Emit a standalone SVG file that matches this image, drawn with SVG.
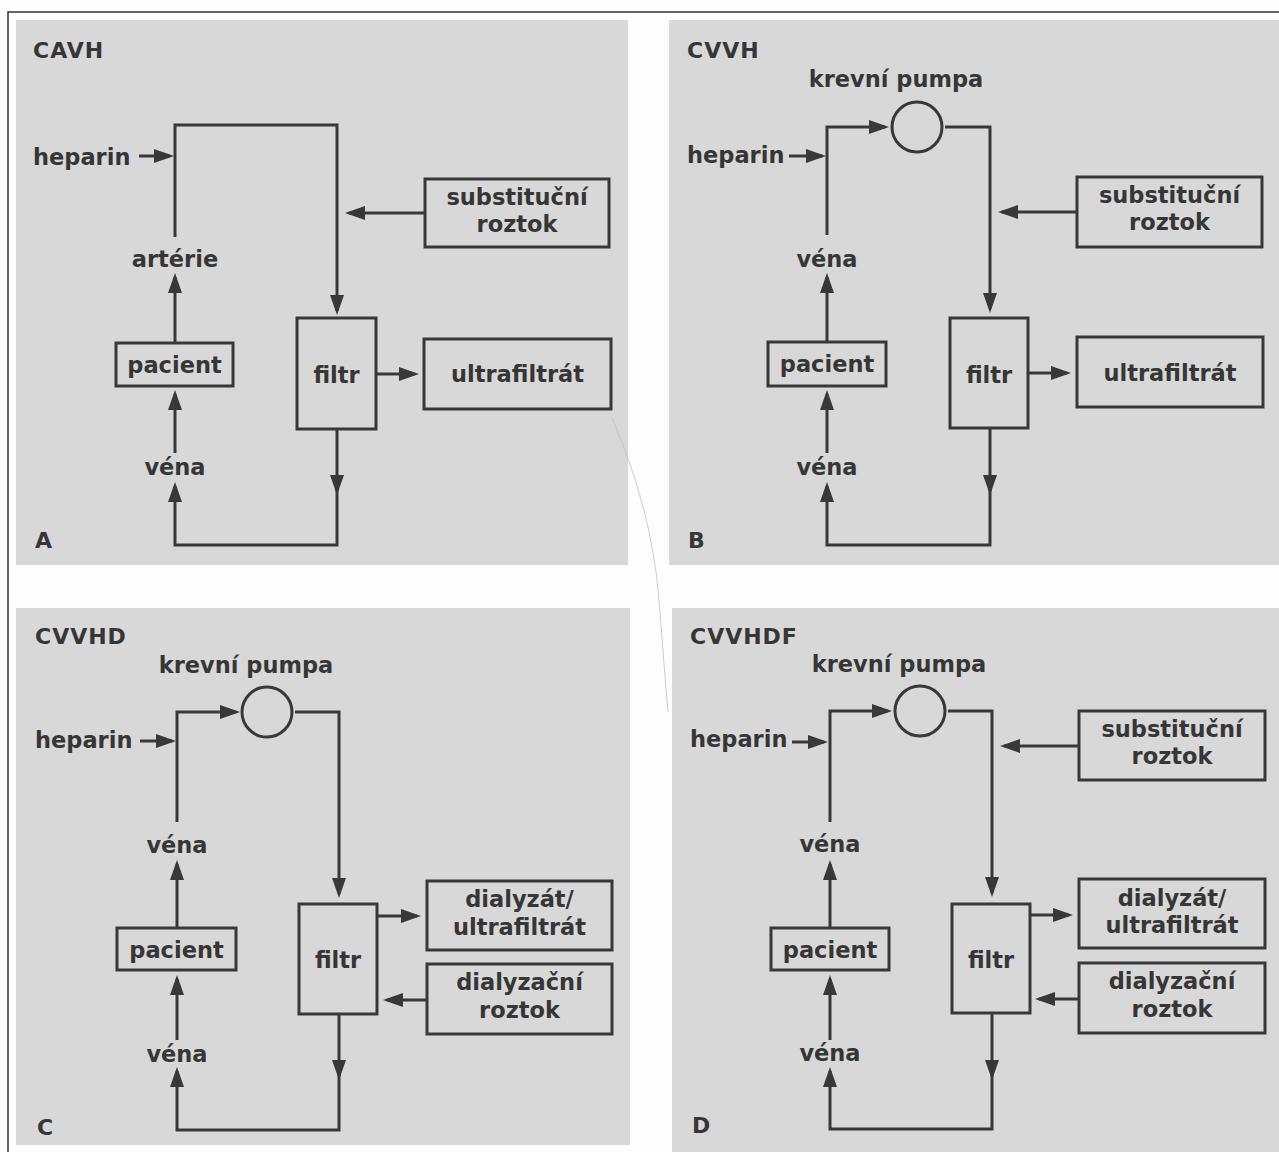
<svg xmlns="http://www.w3.org/2000/svg" width="1279" height="1152" viewBox="0 0 1279 1152">
<defs>
<style>
.panel{fill:#d8d8d8}
.ln{fill:none;stroke:#383838;stroke-width:3}
.arr{fill:none;stroke:#383838;stroke-width:3;marker-end:url(#ah)}
.box{fill:none;stroke:#383838;stroke-width:3}
.t{font-family:"DejaVu Sans",sans-serif;font-weight:bold;font-size:22.5px;fill:#363636}
.c{text-anchor:middle}
.title{font-family:"DejaVu Sans",sans-serif;font-weight:bold;font-size:22px;fill:#363636;letter-spacing:1px}
</style>
<marker id="ah" markerUnits="userSpaceOnUse" markerWidth="20" markerHeight="14" refX="16" refY="7" orient="auto">
<path d="M0,0 L20,7 L0,14 z" fill="#383838"/>
</marker>
</defs>
<rect x="0" y="0" width="1279" height="1152" fill="#fdfdfd"/>
<path d="M8,1152 L8,12 L1279,12" fill="none" stroke="#333" stroke-width="1.5"/>
<rect class="panel" x="16" y="20" width="612" height="545"/>
<rect class="panel" x="669" y="20" width="610" height="545"/>
<rect class="panel" x="16" y="608" width="614" height="537"/>
<rect class="panel" x="672" y="608" width="607" height="544"/>
<path d="M612,418 Q652,510 659,600 T668,712" fill="none" stroke="#b8b8b8" stroke-width="1" opacity="0.7"/>

<!-- Panel A -->
<g id="panelA">
<text class="title" x="33" y="58">CAVH</text>
<text class="title" x="35" y="548">A</text>
<g id="A-heparin"><text class="t" x="33" y="165">heparin</text></g>
<g id="A-arterie"><text class="t c" x="175" y="267">artérie</text></g>
<g id="A-vena"><text class="t c" x="175" y="475">véna</text></g>
<g id="A-subst"><rect class="box" x="425" y="179" width="184" height="68"/><text class="t c" x="517" y="205">substituční</text><text class="t c" x="517" y="232">roztok</text></g>
<g id="A-pacient"><rect class="box" x="116" y="343" width="117" height="43"/><text class="t c" x="174.5" y="373">pacient</text></g>
<g id="A-filtr"><rect class="box" x="297" y="318" width="79" height="111"/><text class="t c" x="336.5" y="383">filtr</text></g>
<g id="A-ultra"><rect class="box" x="424" y="339" width="187" height="70"/><text class="t c" x="517.5" y="382">ultrafiltrát</text></g>
</g>

<!-- Panel B -->
<g id="panelB">
<text class="title" x="687" y="58">CVVH</text>
<text class="title" x="688" y="548">B</text>
<g id="B-pumpa"><text class="t c" x="896" y="87">krevní pumpa</text><circle class="box" cx="917" cy="127" r="25"/></g>
<g id="B-heparin"><text class="t" x="687" y="163">heparin</text></g>
<g id="B-vena1"><text class="t c" x="827" y="267">véna</text></g>
<g id="B-vena2"><text class="t c" x="827" y="475">véna</text></g>
<g id="B-subst"><rect class="box" x="1077" y="177" width="185" height="70"/><text class="t c" x="1169.5" y="203">substituční</text><text class="t c" x="1169.5" y="230">roztok</text></g>
<g id="B-pacient"><rect class="box" x="768" y="342" width="118" height="44"/><text class="t c" x="827" y="372">pacient</text></g>
<g id="B-filtr"><rect class="box" x="950" y="318" width="78" height="110"/><text class="t c" x="989" y="383">filtr</text></g>
<g id="B-ultra"><rect class="box" x="1077" y="337" width="186" height="70"/><text class="t c" x="1170" y="381">ultrafiltrát</text></g>
</g>

<!-- Panel C -->
<g id="panelC">
<text class="title" x="35" y="644">CVVHD</text>
<text class="title" x="37" y="1135">C</text>
<g id="C-pumpa"><text class="t c" x="246" y="673">krevní pumpa</text><circle class="box" cx="267" cy="712" r="25"/></g>
<g id="C-heparin"><text class="t" x="35" y="748">heparin</text></g>
<g id="C-vena1"><text class="t c" x="177" y="853">véna</text></g>
<g id="C-vena2"><text class="t c" x="177" y="1062">véna</text></g>
<g id="C-pacient"><rect class="box" x="117" y="928" width="119" height="42"/><text class="t c" x="176.5" y="958">pacient</text></g>
<g id="C-filtr"><rect class="box" x="299" y="904" width="78" height="110"/><text class="t c" x="338" y="968">filtr</text></g>
<g id="C-dialyzat"><rect class="box" x="427" y="881" width="185" height="69"/><text class="t c" x="519.5" y="907">dialyzát/</text><text class="t c" x="519.5" y="935">ultrafiltrát</text></g>
<g id="C-roztok"><rect class="box" x="427" y="964" width="185" height="70"/><text class="t c" x="519.5" y="990">dialyzační</text><text class="t c" x="519.5" y="1018">roztok</text></g>
</g>

<!-- Panel D -->
<g id="panelD">
<text class="title" x="690" y="644">CVVHDF</text>
<text class="title" x="692" y="1133">D</text>
<g id="D-pumpa"><text class="t c" x="899" y="672">krevní pumpa</text><circle class="box" cx="920" cy="711" r="25"/></g>
<g id="D-heparin"><text class="t" x="690" y="747">heparin</text></g>
<g id="D-vena1"><text class="t c" x="830" y="852">véna</text></g>
<g id="D-vena2"><text class="t c" x="830" y="1061">véna</text></g>
<g id="D-subst"><rect class="box" x="1079" y="711" width="186" height="69"/><text class="t c" x="1172" y="737">substituční</text><text class="t c" x="1172" y="764">roztok</text></g>
<g id="D-pacient"><rect class="box" x="771" y="928" width="118" height="42"/><text class="t c" x="830" y="958">pacient</text></g>
<g id="D-filtr"><rect class="box" x="952" y="904" width="78" height="109"/><text class="t c" x="991" y="968">filtr</text></g>
<g id="D-dialyzat"><rect class="box" x="1079" y="879" width="186" height="69"/><text class="t c" x="1172" y="906">dialyzát/</text><text class="t c" x="1172" y="933">ultrafiltrát</text></g>
<g id="D-roztok"><rect class="box" x="1079" y="963" width="186" height="70"/><text class="t c" x="1172" y="989">dialyzační</text><text class="t c" x="1172" y="1017">roztok</text></g>
</g>

<g id="connectors">
<!-- A -->
<path class="arr" d="M139,156 L170,156"/>
<path class="arr" d="M175,237 L175,125 L337,125 L337,311"/>
<path class="arr" d="M425,213 L349,213"/>
<path class="arr" d="M175,343 L175,277"/>
<path class="arr" d="M175,453 L175,394"/>
<path class="arr" d="M376,374 L415,374"/>
<path class="arr" d="M337,429 L337,491"/>
<path class="arr" d="M337,480 L337,545 L175,545 L175,486"/>
<!-- B -->
<path class="arr" d="M789,156 L822,156"/>
<path class="arr" d="M827,235 L827,127 L885,127"/>
<path class="arr" d="M945,127 L990,127 L990,309"/>
<path class="arr" d="M1077,212 L1002,212"/>
<path class="arr" d="M827,342 L827,277"/>
<path class="arr" d="M827,453 L827,394"/>
<path class="arr" d="M1028,373 L1067,373"/>
<path class="arr" d="M990,428 L990,491"/>
<path class="arr" d="M990,480 L990,545 L827,545 L827,486"/>
<!-- C -->
<path class="arr" d="M140,741 L172,741"/>
<path class="arr" d="M177,822 L177,712 L236,712"/>
<path class="arr" d="M295,712 L339,712 L339,894"/>
<path class="arr" d="M177,928 L177,864"/>
<path class="arr" d="M177,1040 L177,979"/>
<path class="arr" d="M377,916 L417,916"/>
<path class="arr" d="M427,1000 L387,1000"/>
<path class="arr" d="M339,1014 L339,1076"/>
<path class="arr" d="M339,1065 L339,1130 L177,1130 L177,1071"/>
<!-- D -->
<path class="arr" d="M792,742 L824,742"/>
<path class="arr" d="M830,822 L830,711 L888,711"/>
<path class="arr" d="M948,711 L992,711 L992,893"/>
<path class="arr" d="M1079,746 L1004,746"/>
<path class="arr" d="M830,928 L830,864"/>
<path class="arr" d="M830,1040 L830,979"/>
<path class="arr" d="M1030,915 L1069,915"/>
<path class="arr" d="M1079,999 L1039,999"/>
<path class="arr" d="M992,1013 L992,1076"/>
<path class="arr" d="M992,1065 L992,1129 L830,1129 L830,1071"/>
</g>
</svg>
